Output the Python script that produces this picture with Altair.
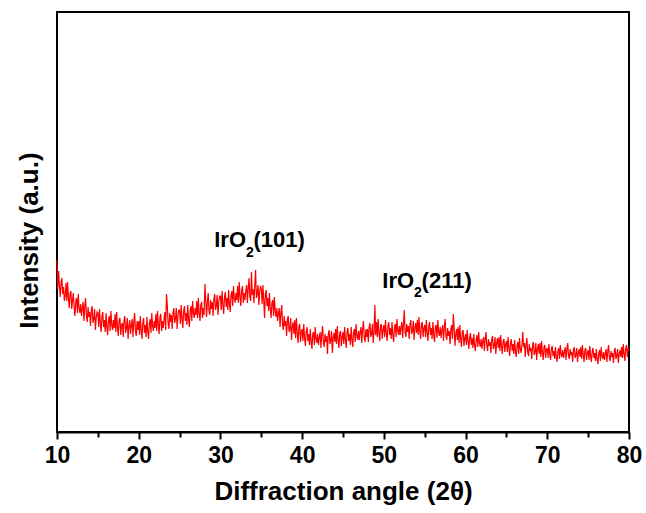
import altair as alt
import pandas as pd

# XRD pattern: intensity (a.u.) sampled every 0.1 degree from 10 to 80 (2theta)
angle_start = 10.0
angle_step = 0.1
intensity_rows = [
    [172, 143, 161, 146, 135, 150, 154, 138, 145, 131],  # 10
    [136, 149, 131, 150, 134, 124, 139, 141, 123, 132],
    [139, 124, 116, 131, 134, 119, 138, 124, 119, 128],
    [116, 124, 130, 111, 126, 134, 116, 110, 125, 115],
    [120, 106, 122, 126, 109, 113, 123, 102, 114, 120],
    [119, 105, 123, 109, 100, 115, 120, 105, 112, 100],  # 15
    [119, 105, 97, 112, 116, 101, 121, 107, 102, 112],
    [104, 118, 100, 120, 105, 96, 112, 114, 97, 107],
    [109, 95, 112, 116, 99, 104, 114, 93, 106, 112],
    [98, 107, 113, 95, 110, 119, 101, 96, 111, 102],
    [111, 97, 116, 102, 93, 109, 114, 99, 107, 95],  # 20
    [115, 101, 93, 109, 113, 99, 119, 106, 101, 111],
    [104, 118, 101, 121, 107, 98, 115, 118, 101, 111],
    [104, 113, 120, 102, 138, 126, 108, 103, 119, 110],
    [117, 103, 120, 124, 109, 113, 124, 103, 116, 122],
    [122, 108, 127, 113, 104, 121, 126, 111, 119, 107],  # 25
    [127, 113, 105, 122, 126, 111, 131, 119, 114, 124],
    [117, 131, 114, 134, 119, 111, 127, 130, 114, 124],
    [117, 148, 132, 115, 129, 139, 121, 117, 132, 123],
    [130, 116, 133, 138, 122, 126, 137, 117, 130, 136],
    [136, 122, 141, 127, 118, 135, 140, 125, 134, 122],  # 30
    [142, 128, 120, 137, 141, 126, 146, 134, 129, 139],
    [132, 146, 129, 150, 135, 126, 142, 146, 129, 139],
    [132, 141, 147, 129, 144, 154, 135, 131, 160, 137],
    [143, 129, 146, 162, 134, 138, 147, 127, 140, 146],
    [143, 128, 147, 132, 114, 138, 142, 126, 134, 121],  # 35
    [139, 124, 114, 129, 132, 116, 135, 121, 115, 124],
    [111, 119, 124, 105, 119, 127, 108, 102, 116, 106],
    [111, 96, 113, 116, 100, 103, 114, 92, 105, 110],
    [98, 112, 94, 114, 99, 89, 105, 108, 90, 100],
    [103, 91, 108, 94, 86, 101, 105, 91, 98, 87],  # 40
    [103, 90, 83, 98, 100, 87, 105, 93, 89, 98],
    [87, 95, 100, 84, 98, 106, 89, 85, 98, 90],
    [96, 78, 98, 102, 88, 91, 101, 79, 94, 99],
    [90, 103, 88, 106, 92, 84, 99, 101, 86, 95],
    [100, 88, 105, 92, 84, 100, 104, 91, 98, 87],  # 45
    [105, 92, 85, 100, 103, 90, 108, 96, 92, 101],
    [92, 100, 105, 89, 103, 111, 94, 90, 103, 95],
    [103, 90, 105, 109, 95, 98, 108, 89, 101, 127],
    [97, 110, 95, 113, 99, 91, 106, 108, 93, 102],
    [107, 95, 112, 99, 91, 106, 110, 97, 104, 93],  # 50
    [110, 97, 90, 105, 108, 95, 113, 101, 97, 106],
    [97, 105, 110, 94, 108, 122, 99, 95, 108, 100],
    [106, 93, 108, 112, 98, 101, 111, 92, 104, 109],
    [99, 112, 97, 115, 101, 93, 108, 110, 95, 104],
    [107, 95, 112, 99, 91, 106, 110, 97, 104, 93],  # 55
    [110, 97, 90, 105, 107, 94, 112, 100, 96, 105],
    [94, 102, 107, 91, 105, 113, 96, 92, 104, 96],
    [101, 88, 103, 107, 93, 118, 105, 86, 98, 103],
    [92, 105, 89, 107, 93, 85, 100, 102, 86, 94],
    [98, 87, 102, 91, 83, 95, 99, 87, 94, 84],  # 60
    [98, 87, 81, 93, 97, 85, 100, 89, 85, 93],
    [83, 91, 95, 81, 93, 100, 86, 81, 93, 86],
    [90, 79, 93, 96, 83, 86, 95, 78, 89, 94],
    [84, 95, 81, 97, 85, 78, 91, 93, 80, 88],
    [91, 80, 95, 84, 76, 89, 93, 81, 88, 78],  # 65
    [92, 81, 75, 87, 90, 78, 94, 83, 79, 87],
    [100, 85, 89, 75, 87, 94, 80, 76, 88, 81],
    [84, 73, 87, 90, 77, 80, 89, 72, 83, 88],
    [78, 89, 75, 91, 79, 72, 85, 87, 74, 82],
    [84, 74, 88, 78, 72, 83, 86, 76, 81, 73],  # 70
    [85, 75, 70, 81, 84, 73, 87, 78, 75, 82],
    [74, 80, 85, 72, 83, 89, 76, 73, 83, 77],
    [80, 70, 82, 85, 74, 77, 84, 70, 79, 83],
    [75, 85, 73, 87, 77, 70, 82, 84, 72, 79],
    [82, 72, 86, 76, 70, 81, 84, 74, 79, 71],  # 75
    [83, 73, 68, 79, 82, 71, 85, 76, 73, 80],
    [72, 78, 83, 70, 81, 87, 74, 71, 81, 75],
    [79, 69, 81, 84, 73, 76, 83, 69, 78, 82],
    [75, 85, 74, 88, 78, 71, 84, 87, 75, 84],
    [82],  # 80
]
intensity = [v for row in intensity_rows for v in row]
angles = [round(angle_start + angle_step * i, 1) for i in range(len(intensity))]

x_ticks = [10, 15, 20, 25, 30, 35, 40, 45, 50, 55, 60, 65, 70, 75, 80]

# Peak annotations (text split into parts for the subscript)
ann_part = ["main", "sub", "tail", "main", "sub", "tail"]
ann_text = ["IrO", "2", "(101)", "IrO", "2", "(211)"]
ann_x = [33.13, 33.13, 34.05, 53.70, 53.70, 54.62]
ann_y = [185, 175, 185, 144, 135, 144]

df = pd.DataFrame({"angle": angles, "intensity": intensity})
ann = pd.DataFrame({"part": ann_part, "text": ann_text, "x": ann_x, "y": ann_y})

FONT = "Liberation Sans"

x_scale = alt.Scale(domain=[10, 80], nice=False, zero=False)
y_scale = alt.Scale(domain=[0, 420], nice=False, zero=False)

x_axis = alt.Axis(
    values=x_ticks,
    labelExpr="datum.value % 10 == 0 ? datum.label : ''",
    tickSize={"condition": {"test": "datum.value % 10 == 0", "value": 7}, "value": 5},
    tickWidth=2,
    tickColor="black",
    domainColor="black",
    domainWidth=2,
    labelFont=FONT,
    labelFontSize=23,
    labelFontWeight="bold",
    labelColor="black",
    labelPadding=5,
    labelFlush=False,
    title="Diffraction angle (2θ)",
    titleFont=FONT,
    titleFontSize=26,
    titleFontWeight="bold",
    titleColor="black",
    titlePadding=11,
    grid=False,
)
y_axis = alt.Axis(
    labels=False,
    ticks=False,
    domain=False,
    grid=False,
    title="Intensity (a.u.)",
    titleFont=FONT,
    titleFontSize=26,
    titleFontWeight="bold",
    titleColor="black",
    titlePadding=15,
    titleY=228,
)

line = alt.Chart(df).mark_line(color="#ff0000", strokeWidth=1.2).encode(
    x=alt.X("angle:Q", scale=x_scale, axis=x_axis),
    y=alt.Y("intensity:Q", scale=y_scale, axis=y_axis),
    order="angle:Q",
)

base_ann = alt.Chart(ann).encode(
    x=alt.X("x:Q", scale=x_scale),
    y=alt.Y("y:Q", scale=y_scale),
    text="text:N",
)
main_txt = base_ann.transform_filter("datum.part == 'main'").mark_text(
    align="right", baseline="alphabetic", font=FONT, fontSize=22, fontWeight="bold", color="black"
)
sub_txt = base_ann.transform_filter("datum.part == 'sub'").mark_text(
    align="left", baseline="alphabetic", font=FONT, fontSize=14, fontWeight="bold", color="black"
)
tail_txt = base_ann.transform_filter("datum.part == 'tail'").mark_text(
    align="left", baseline="alphabetic", font=FONT, fontSize=22, fontWeight="bold", color="black"
)

chart = (
    alt.layer(line, main_txt, sub_txt, tail_txt)
    .properties(
        width=572,
        height=420,
        autosize=alt.AutoSizeParams(type="none"),
        padding={"left": 57, "top": 12, "right": 17, "bottom": 81},
        background="white",
    )
    .configure_view(stroke="black", strokeWidth=2)
)

chart.save("out.html", embed_options={"renderer": "svg", "actions": False})
